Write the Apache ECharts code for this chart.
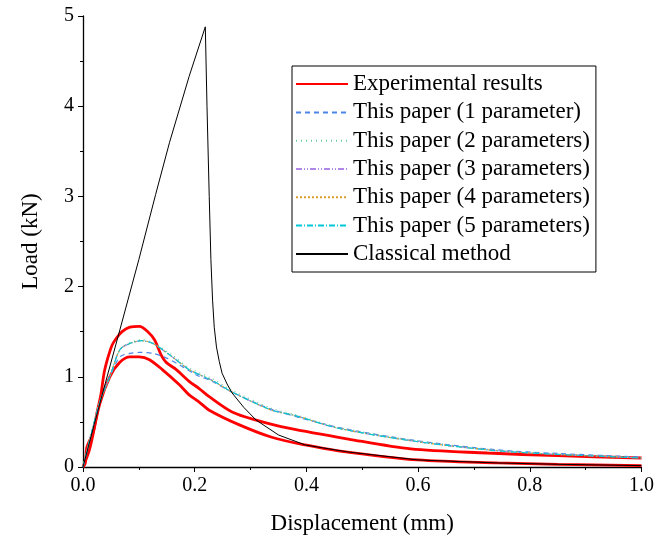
<!DOCTYPE html>
<html>
<head>
<meta charset="utf-8">
<script src="https://cdn.jsdelivr.net/npm/echarts@6/dist/echarts.min.js"></script>
<style>
html, body { margin: 0; padding: 0; background: #fff; }
#chart { width: 657px; height: 545px; }
</style>
</head>
<body>
<div id="chart"></div>
<script>
// displacement (mm), load (kN)
var expUpper = [[0,0],[0.004,0.04],[0.007,0.22],[0.018,0.38],[0.025,0.6],[0.032,0.8],[0.038,1.05],[0.045,1.22],[0.052,1.35],[0.06,1.43],[0.07,1.5],[0.084,1.55],[0.101,1.56],[0.116,1.5],[0.128,1.41],[0.14,1.24],[0.149,1.16],[0.167,1.08],[0.19,0.95],[0.208,0.87],[0.226,0.78],[0.267,0.61],[0.31,0.52],[0.368,0.43],[0.475,0.31],[0.587,0.2],[0.724,0.155],[0.85,0.125],[1.0,0.1]];
var expLower = [[0,0],[0.012,0.2],[0.03,0.7],[0.048,1.0],[0.066,1.16],[0.084,1.22],[0.101,1.22],[0.119,1.19],[0.142,1.08],[0.173,0.91],[0.19,0.8],[0.208,0.72],[0.226,0.63],[0.279,0.47],[0.338,0.33],[0.398,0.244],[0.457,0.18],[0.6,0.078],[0.742,0.045],[0.85,0.03],[1.0,0.015]];
var model1 = [[0,0],[0.03,0.72],[0.048,1.0],[0.066,1.22],[0.084,1.26],[0.101,1.27],[0.125,1.26],[0.149,1.21],[0.173,1.13],[0.203,1.02],[0.231,0.95],[0.267,0.83],[0.338,0.64],[0.457,0.44],[0.6,0.29],[0.742,0.19],[0.85,0.15],[1.0,0.11]];
var model2 = [[0,0],[0.03,0.72],[0.048,1.0],[0.066,1.3],[0.084,1.38],[0.105,1.41],[0.125,1.38],[0.16,1.24],[0.19,1.1],[0.231,0.98],[0.267,0.85],[0.338,0.65],[0.38,0.58],[0.457,0.44],[0.6,0.29],[0.742,0.185],[0.85,0.14],[1.0,0.105]];
var model3 = [[0,0],[0.03,0.72],[0.048,1.0],[0.066,1.3],[0.084,1.37],[0.105,1.4],[0.125,1.37],[0.16,1.22],[0.19,1.08],[0.231,0.96],[0.267,0.83],[0.338,0.63],[0.38,0.57],[0.457,0.43],[0.6,0.28],[0.742,0.18],[0.85,0.14],[1.0,0.1]];
var model4 = [[0,0],[0.03,0.72],[0.048,1.0],[0.066,1.3],[0.084,1.37],[0.105,1.4],[0.125,1.37],[0.16,1.22],[0.19,1.08],[0.231,0.96],[0.267,0.83],[0.338,0.63],[0.38,0.57],[0.457,0.43],[0.6,0.28],[0.742,0.18],[0.85,0.14],[1.0,0.1]];
var model5 = [[0,0],[0.03,0.72],[0.048,1.0],[0.066,1.3],[0.084,1.37],[0.105,1.4],[0.125,1.37],[0.16,1.22],[0.19,1.08],[0.231,0.96],[0.267,0.83],[0.338,0.63],[0.38,0.57],[0.457,0.43],[0.6,0.28],[0.742,0.18],[0.85,0.14],[1.0,0.1]];
var classical = [[0,0],[0.02,0.47],[0.04,0.93],[0.066,1.52],[0.1,2.3],[0.13,3.02],[0.155,3.6],[0.19,4.33],[0.219,4.88],[0.222,4.0],[0.226,3.0],[0.229,2.3],[0.232,1.85],[0.235,1.55],[0.239,1.33],[0.244,1.17],[0.249,1.04],[0.258,0.92],[0.267,0.82],[0.288,0.66],[0.31,0.52],[0.35,0.355],[0.398,0.244],[0.475,0.166],[0.6,0.078],[0.742,0.045],[0.85,0.03],[1.0,0.015]];

var serifFont = '"Liberation Serif", "Times New Roman", serif';

var chart = echarts.init(document.getElementById('chart'), null, { renderer: 'canvas' });

function lineSeries(name, data, color, width, type, smooth) {
  return {
    name: name,
    type: 'line',
    data: data,
    symbol: 'none',
    smooth: smooth,
    animation: false,
    lineStyle: { color: color, width: width, type: type },
    itemStyle: { color: color }
  };
}

var option = {
  backgroundColor: '#fff',
  grid: { left: 83, right: 12, top: 16, bottom: 78 },
  legend: {
    orient: 'vertical',
    left: 292,
    top: 66,
    padding: [6.6, 6, 6.6, 3],
    borderColor: '#000',
    borderWidth: 1,
    itemWidth: 52,
    itemHeight: 14,
    itemGap: 5.3,
    itemStyle: { opacity: 0 },
    textStyle: { fontFamily: serifFont, fontSize: 23, color: '#000', lineHeight: 23 },
    data: ['Experimental results', 'This paper (1 parameter)', 'This paper (2 parameters)', 'This paper (3 parameters)', 'This paper (4 parameters)', 'This paper (5 parameters)', 'Classical method']
  },
  xAxis: {
    type: 'value',
    min: 0,
    max: 1,
    interval: 0.2,
    name: 'Displacement (mm)',
    nameLocation: 'middle',
    nameGap: 45,
    nameTextStyle: { fontFamily: serifFont, fontSize: 23, color: '#000' },
    axisLine: { show: true, lineStyle: { color: '#000', width: 1.3 } },
    axisTick: { show: true, inside: false, length: 5, lineStyle: { color: '#000' } },
    minorTick: { show: true, splitNumber: 2, length: 3, lineStyle: { color: '#000' } },
    splitLine: { show: false },
    axisLabel: { fontFamily: serifFont, fontSize: 20, color: '#000', margin: 9, formatter: function (v) { return v.toFixed(1); } }
  },
  yAxis: {
    type: 'value',
    min: 0,
    max: 5,
    interval: 1,
    name: 'Load (kN)',
    nameLocation: 'middle',
    nameGap: 41,
    nameTextStyle: { fontFamily: serifFont, fontSize: 23, color: '#000' },
    axisLine: { show: true, lineStyle: { color: '#000', width: 1.3 } },
    axisTick: { show: true, inside: false, length: 5, lineStyle: { color: '#000' } },
    minorTick: { show: true, splitNumber: 2, length: 3, lineStyle: { color: '#000' } },
    splitLine: { show: false },
    axisLabel: { fontFamily: serifFont, fontSize: 20, color: '#000', margin: 9 }
  },
  series: [
    lineSeries('Experimental results', expUpper, '#ff0000', 2.8, 'solid', 0.3),
    lineSeries('Experimental results', expLower, '#ff0000', 2.8, 'solid', 0.3),
    lineSeries('This paper (1 parameter)', model1, '#4a86e8', 1.2, [5, 4], 0.3),
    lineSeries('This paper (2 parameters)', model2, '#66cc99', 1.2, [1, 4], 0.3),
    lineSeries('This paper (3 parameters)', model3, '#b088e8', 1.2, [6, 2, 1, 2, 1, 2], 0.3),
    lineSeries('This paper (4 parameters)', model4, '#d9a030', 1.2, [2, 2], 0.3),
    lineSeries('This paper (5 parameters)', model5, '#00c8d8', 1.2, [6, 2, 1, 2], 0.3),
    lineSeries('Classical method', classical, '#000000', 1, 'solid', false)
  ]
};

chart.setOption(option);
window.addEventListener('resize', chart.resize);
</script>
</body>
</html>
